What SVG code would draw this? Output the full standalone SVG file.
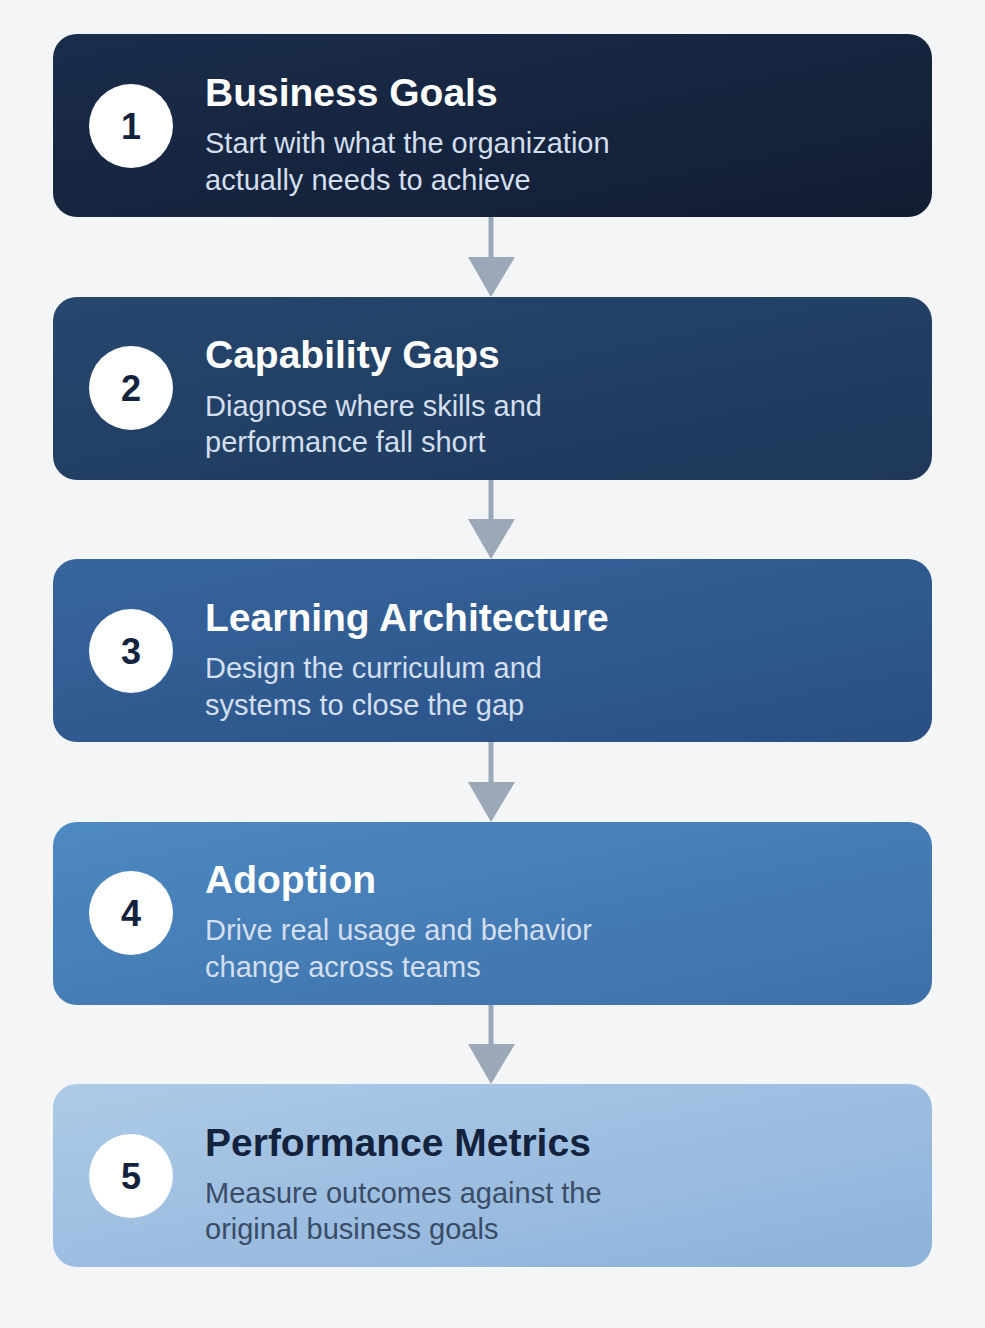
<svg xmlns="http://www.w3.org/2000/svg" width="985" height="1328" viewBox="0 0 985 1328">
<defs>
<linearGradient id="g1" x1="0" y1="0" x2="1" y2="1"><stop offset="0" stop-color="#1b2d4b"/><stop offset="1" stop-color="#111d33"/></linearGradient>
<linearGradient id="g2" x1="0" y1="0" x2="1" y2="1"><stop offset="0" stop-color="#26476e"/><stop offset="1" stop-color="#1e375a"/></linearGradient>
<linearGradient id="g3" x1="0" y1="0" x2="1" y2="1"><stop offset="0" stop-color="#36669d"/><stop offset="1" stop-color="#294f83"/></linearGradient>
<linearGradient id="g4" x1="0" y1="0" x2="1" y2="1"><stop offset="0" stop-color="#4d89c2"/><stop offset="1" stop-color="#3e70a8"/></linearGradient>
<linearGradient id="g5" x1="0" y1="0" x2="1" y2="1"><stop offset="0" stop-color="#adcae7"/><stop offset="1" stop-color="#8cb2da"/></linearGradient>
</defs>
<style>
.circ{fill:#ffffff}
.num{font-family:"Liberation Sans",Arial,sans-serif;font-weight:bold;font-size:36px;fill:#13223d;text-anchor:middle}
.title{font-family:"Liberation Sans",Arial,sans-serif;font-weight:bold;font-size:39px;fill:#ffffff}
.desc{font-family:"Liberation Sans",Arial,sans-serif;font-size:29px;fill:#d3dfee}
.title.dk{fill:#13223d}
.desc.dk{fill:#3a4c66}
.conn line{stroke:#9aa8b8;stroke-width:5}
.conn polygon{fill:#9aa8b8}
</style>
<rect width="985" height="1328" fill="#f3f5f7"/>
<g class="conn" id="connectors">
<line x1="491" y1="217" x2="491" y2="260"/><polygon points="468,257 515,257 491,297"/>
<line x1="491" y1="480" x2="491" y2="522"/><polygon points="468,519 515,519 491,559"/>
<line x1="491" y1="742" x2="491" y2="785"/><polygon points="468,782 515,782 491,822"/>
<line x1="491" y1="1005" x2="491" y2="1047"/><polygon points="468,1044 515,1044 491,1084"/>
</g>
<g id="node1">
<rect x="53" y="34" width="879" height="183" rx="24" fill="url(#g1)"/>
<circle class="circ" cx="131" cy="126" r="42"/>
<text class="num" x="131" y="139">1</text>
<text class="title" x="205" y="106">Business Goals</text>
<text class="desc" x="205" y="153">Start with what the organization</text>
<text class="desc" x="205" y="190">actually needs to achieve</text>
</g>
<g id="node2">
<rect x="53" y="297" width="879" height="183" rx="24" fill="url(#g2)"/>
<circle class="circ" cx="131" cy="388" r="42"/>
<text class="num" x="131" y="401">2</text>
<text class="title" x="205" y="368">Capability Gaps</text>
<text class="desc" x="205" y="416">Diagnose where skills and</text>
<text class="desc" x="205" y="452">performance fall short</text>
</g>
<g id="node3">
<rect x="53" y="559" width="879" height="183" rx="24" fill="url(#g3)"/>
<circle class="circ" cx="131" cy="651" r="42"/>
<text class="num" x="131" y="664">3</text>
<text class="title" x="205" y="631">Learning Architecture</text>
<text class="desc" x="205" y="678">Design the curriculum and</text>
<text class="desc" x="205" y="715">systems to close the gap</text>
</g>
<g id="node4">
<rect x="53" y="822" width="879" height="183" rx="24" fill="url(#g4)"/>
<circle class="circ" cx="131" cy="913" r="42"/>
<text class="num" x="131" y="926">4</text>
<text class="title" x="205" y="893">Adoption</text>
<text class="desc" x="205" y="940">Drive real usage and behavior</text>
<text class="desc" x="205" y="977">change across teams</text>
</g>
<g id="node5">
<rect x="53" y="1084" width="879" height="183" rx="24" fill="url(#g5)"/>
<circle class="circ" cx="131" cy="1176" r="42"/>
<text class="num" x="131" y="1189">5</text>
<text class="title dk" x="205" y="1156">Performance Metrics</text>
<text class="desc dk" x="205" y="1203">Measure outcomes against the</text>
<text class="desc dk" x="205" y="1239">original business goals</text>
</g>
</svg>
